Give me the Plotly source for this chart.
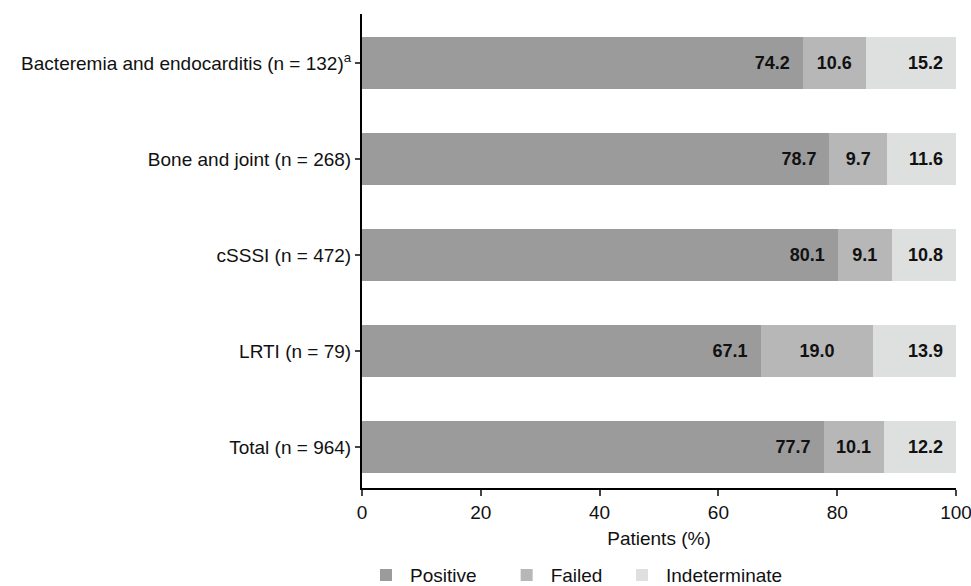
import plotly.graph_objects as go

categories = [
    "Bacteremia and endocarditis (n = 132)<sup>a</sup>",
    "Bone and joint (n = 268)",
    "cSSSI (n = 472)",
    "LRTI (n = 79)",
    "Total (n = 964)",
]
positive = [74.2, 78.7, 80.1, 67.1, 77.7]
failed = [10.6, 9.7, 9.1, 19.0, 10.1]
indeterminate = [15.2, 11.6, 10.8, 13.9, 12.2]
series_names = ["Positive", "Failed", "Indeterminate"]
x_ticks = [0, 20, 40, 60, 80, 100]

NB = "\u00a0"
series = [
    (series_names[0], NB * 4, positive, "#9b9b9b", "end", "%{x:.1f}" + NB * 2),
    (series_names[1], NB * 2, failed, "#b7b7b7", "middle", "%{x:.1f}"),
    (series_names[2], "", indeterminate, "#dedfdf", "end", "%{x:.1f}" + NB * 2),
]

FONT = "Liberation Sans, Arial, Helvetica, sans-serif"

fig = go.Figure()
for name, pad, vals, color, anchor, tmpl in series:
    fig.add_trace(go.Bar(
        y=categories, x=vals, name=name + pad, orientation="h",
        marker=dict(color=color, line=dict(width=0)),
        width=0.54,
        texttemplate=tmpl, textposition="inside", insidetextanchor=anchor,
        textfont=dict(family=FONT, size=18, color="#111", weight="bold"),
        textangle=0,
    ))

fig.update_layout(
    barmode="stack",
    width=971, height=586,
    margin=dict(l=362, r=15, t=14, b=98),
    plot_bgcolor="white", paper_bgcolor="white",
    font=dict(family=FONT, size=19, color="#111"),
    showlegend=True,
    legend=dict(orientation="h", x=0.0, xanchor="left", xref="paper",
                y=0.0185, yanchor="middle", yref="container",
                font=dict(size=19), traceorder="normal", itemwidth=38),
    uniformtext=dict(mode=False),
)
fig.update_xaxes(
    range=[0, 100], tickvals=x_ticks, ticks="outside", ticklen=6, tickwidth=2,
    showline=True, linewidth=2, linecolor="black", showgrid=False, zeroline=False,
    title=dict(text="Patients (%)", font=dict(size=19), standoff=10),
    tickfont=dict(size=19), automargin=False, ticklabeloverflow="allow",
)
fig.update_yaxes(
    categoryorder="array", categoryarray=categories,
    range=[4.427, -0.51], ticks="outside", ticklen=5, tickwidth=2,
    showline=True, linewidth=2, linecolor="black", showgrid=False,
    tickfont=dict(size=19), automargin=False,
)
fig.write_html(
    "out.html",
    config={"displayModeBar": False},
    post_script="document.body.style.margin='0';"
                "document.documentElement.style.overflow='hidden';",
)
